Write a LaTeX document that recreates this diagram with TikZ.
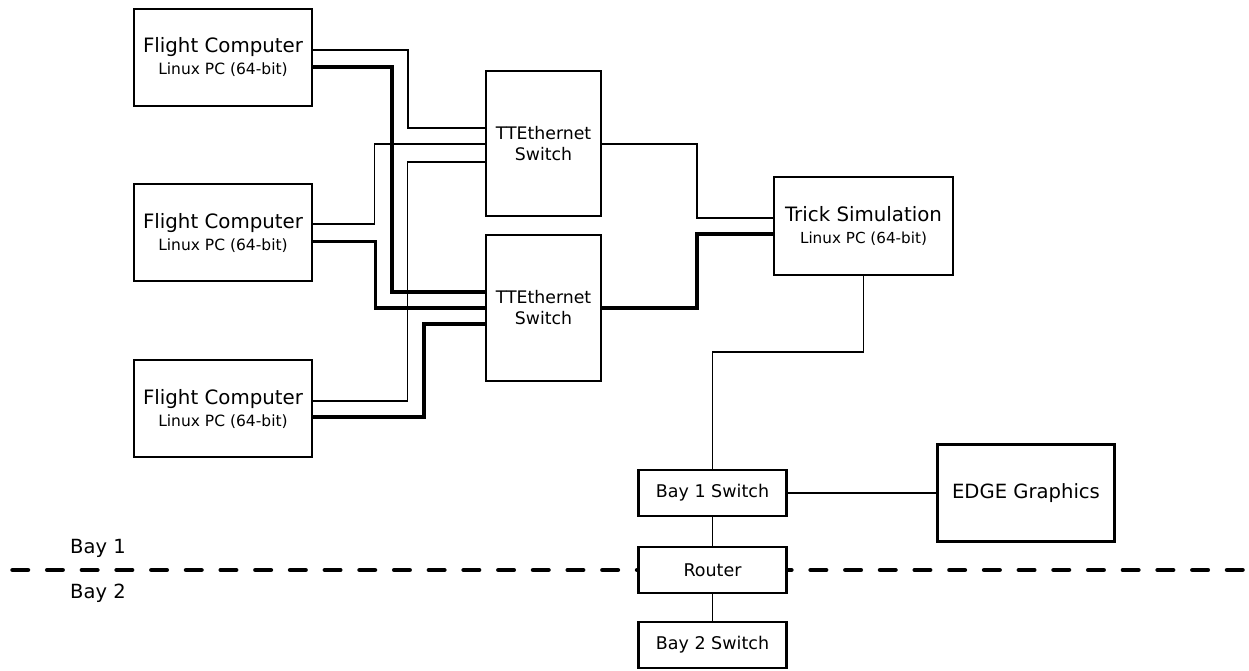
\documentclass[tikz,border=0pt]{standalone}
\usepackage{fontspec}
\setmainfont{DejaVu Sans}
\begin{document}
\begin{tikzpicture}[x=1pt,y=-1pt,
  box/.style={draw,line width=2.5pt,fill=white,align=center,inner sep=0pt},
  smallbox/.style={draw,line width=2.2pt,fill=white,align=center,inner sep=0pt,minimum width=148pt,minimum height=46pt,font=\fontsize{17.5}{20}\selectfont},
  thinw/.style={line width=1.6pt},
  thickw/.style={line width=3.4pt},
  big/.style={font=\fontsize{19.6}{22}\selectfont},
  baylbl/.style={font=\fontsize{19.5}{22}\selectfont,anchor=base west,inner sep=0pt},
]
\useasboundingbox (0,0) rectangle (1249,671);
\newcommand{\fclabel}{{\fontsize{19.8}{22}\selectfont Flight Computer}\\{\fontsize{15.5}{22}\selectfont Linux PC (64-bit)}}

% dashed bay separator
\coordinate (dl) at (12.5,570);
\coordinate (dr) at (1252,570);
\draw[line width=4.5pt,line cap=round,dash pattern=on 15.5pt off 19.2pt] (dl) -- (dr);
\node[baylbl] (bay1lbl) at (70,553) {Bay 1};
\node[baylbl] (bay2lbl) at (70,598) {Bay 2};

% boxes
\node[box,minimum width=178pt,minimum height=97pt,font=\fontsize{15.5}{22}\selectfont] (fc1) at (223,57.5) {\fclabel};
\node[box,minimum width=178pt,minimum height=97pt,font=\fontsize{15.5}{22}\selectfont] (fc2) at (223,232.5) {\fclabel};
\node[box,minimum width=178pt,minimum height=97pt,font=\fontsize{15.5}{22}\selectfont] (fc3) at (223,408.5) {\fclabel};

\node[box,minimum width=115pt,minimum height=145pt,font=\fontsize{17.3}{21}\selectfont] (tte1) at (543.5,143.5) {TTEthernet\\Switch};
\node[box,minimum width=115pt,minimum height=146pt,font=\fontsize{17.3}{21}\selectfont] (tte2) at (543.5,308) {TTEthernet\\Switch};

\node[box,minimum width=179pt,minimum height=98pt,font=\fontsize{15.2}{22}\selectfont] (trick) at (863.5,226) {{\fontsize{19.8}{22}\selectfont Trick Simulation}\\Linux PC (64-bit)};

\node[box,minimum width=177pt,minimum height=97pt,big] (edge) at (1026,493) {EDGE Graphics};

\node[smallbox] (bay1) at (712.5,493) {Bay 1 Switch};
\node[smallbox] (router) at (712.5,570) {Router};
\node[smallbox] (bay2) at (712.5,645) {Bay 2 Switch};

% flight computer wiring
\draw[thinw] (fc1.east |- 0,50) -| (408,128) -- (tte1.west |- 0,128);
\draw[thickw] (fc1.east |- 0,67) -| (392,292) -- (tte2.west |- 0,292);
\draw[thinw] (fc2.east |- 0,224) -| (374.5,144) -- (tte1.west |- 0,144);
\draw[thickw] (fc2.east |- 0,241.5) -| (375.5,308) -- (tte2.west |- 0,308);
\draw[thinw] (fc3.east |- 0,401) -| (407.5,162) -- (tte1.west |- 0,162);
\draw[thickw] (fc3.east |- 0,417) -| (424,324) -- (tte2.west |- 0,324);

% switches to trick
\draw[thinw] (tte1.east |- 0,144) -| (697,218) -- (trick.west |- 0,218);
\draw[thickw] (tte2.east |- 0,308) -| (697,234) -- (trick.west |- 0,234);

% trick to bay 1
\draw[thinw] (trick.south) -- (trick.south |- 0,352) -| (bay1.north);
\draw[thinw] (bay1.east) -- (edge.west);
\draw[thinw] (bay1.south) -- (router.north);
\draw[thinw] (router.south) -- (bay2.north);
\end{tikzpicture}
\end{document}
